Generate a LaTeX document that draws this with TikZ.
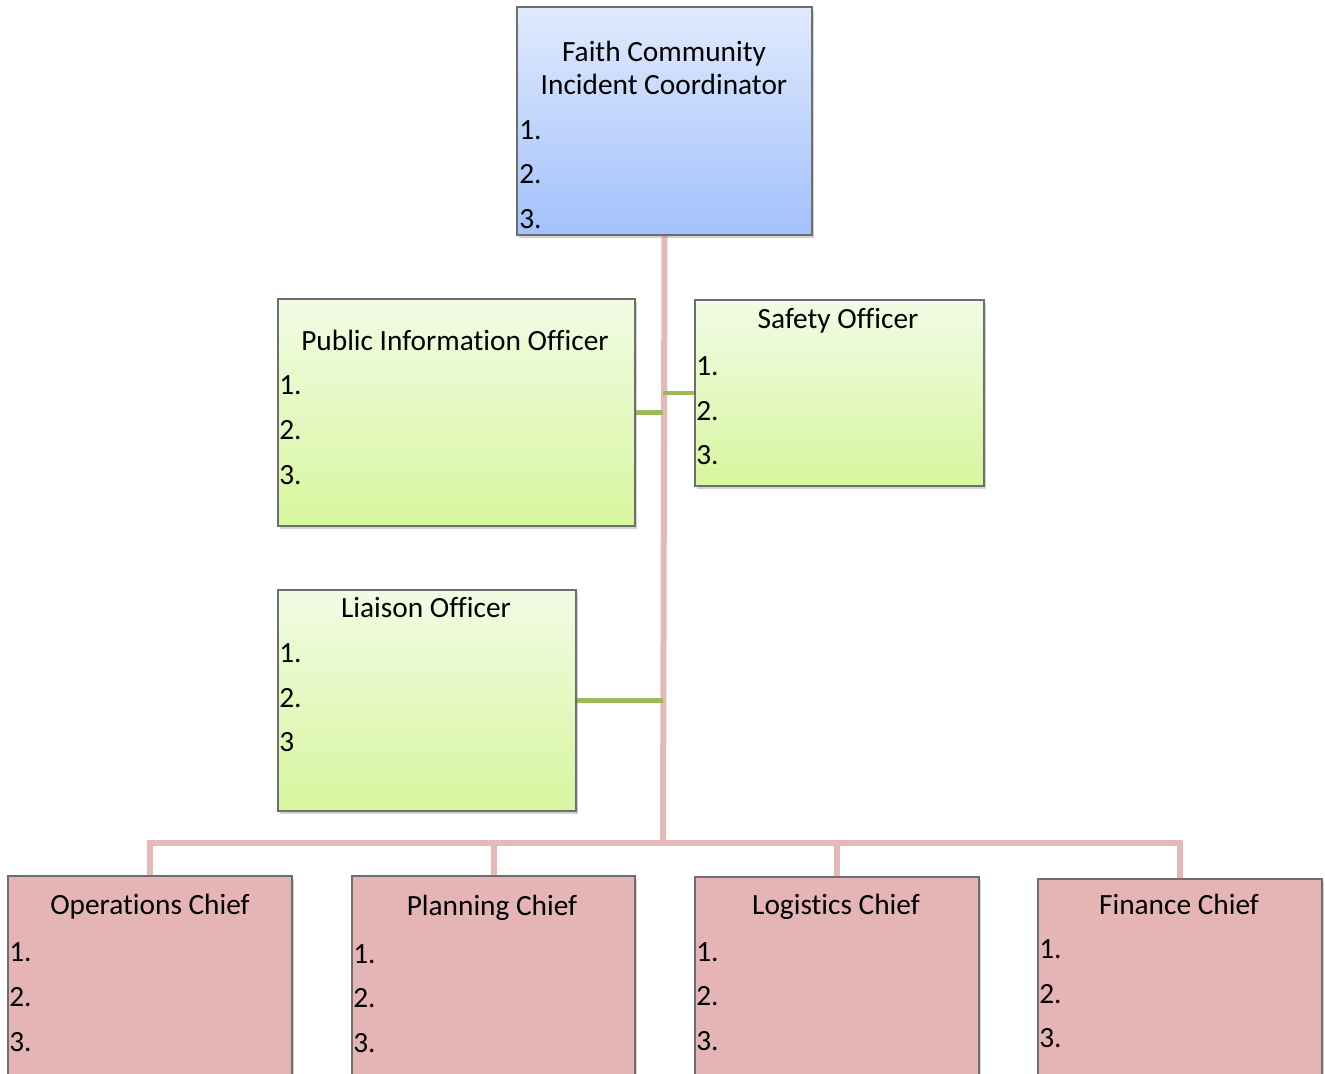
\documentclass[tikz,border=0pt]{standalone}
\usepackage{fontspec}
\setmainfont{Carlito}[Ligatures=NoCommon]
\usetikzlibrary{positioning,fit,shadows,backgrounds}
\definecolor{icTop}{RGB}{224,234,253}
\definecolor{icBot}{RGB}{162,193,251}
\definecolor{stTop}{RGB}{242,251,228}
\definecolor{stBot}{RGB}{214,246,158}
\definecolor{chFill}{RGB}{229,181,182}
\definecolor{boxLine}{RGB}{110,110,110}
\definecolor{trunkCol}{RGB}{230,184,183}
\definecolor{staffCol}{RGB}{155,187,89}
\tikzset{box/.style = {draw=boxLine, line width=0.9pt, inner sep=0,
    drop shadow={opacity=0.35, shadow xshift=1.2pt, shadow yshift=-2pt}},
  icbox/.style = {box, top color=icTop, bottom color=icBot},
  stbox/.style = {box, top color=stTop, bottom color=stBot},
  chbox/.style = {box, fill=chFill},
  txt/.style = {inner sep=0, font=\fontsize{22}{25}\selectfont, align=center},
  num/.style = {txt, anchor=west},
  trunk/.style = {draw=trunkCol, line width=4.5pt},
  staff/.style = {draw=staffCol, line width=3.6pt}}

\begin{document}
\begin{tikzpicture}[x=0.75pt, y=-0.75pt]
      \useasboundingbox (0, 0) rectangle (1325, 1074);
      \clip (0, 0) rectangle (1325, 1074);
      \node [icbox, fit={(517, 7) (812, 235)}] (ic) {};
      \node [stbox, fit={(278, 299) (635, 526)}] (pio) {};
      \node [stbox, fit={(695, 300) (984, 486)}] (safe) {};
      \node [stbox, fit={(278, 590) (576, 811)}] (liai) {};
      \node [chbox, fit={(8, 876) (292, 1090)}] (ops) {};
      \node [chbox, fit={(352, 876) (635, 1090)}] (plan) {};
      \node [chbox, fit={(695, 877) (979, 1090)}] (logi) {};
      \node [chbox, fit={(1038, 879) (1322, 1090)}] (fin) {};
      \coordinate (hub) at (663, 843);
      \begin{scope}[on background layer]
        \draw [trunk] (ic.south) -- (hub);
        \draw [trunk] (ops.north) |- (hub) -| (fin.north);
        \draw [trunk] (plan.north) -- (plan.north |- hub);
        \draw [trunk] (logi.north) -- (logi.north |- hub);
        \draw [staff] (pio.east) -- (pio.east -| hub);
        \draw [staff] (safe.west) -- (safe.west -| hub);
        \draw [staff] (liai.east) -- (liai.east -| hub);
      \end{scope}
      \node [txt] (icT) at (664, 68) {Faith Community\\Incident Coordinator};
      \node [txt] (pioT) at (455, 340) {Public Information Officer};
      \node [txt] (safeT) at (838, 321) {Safety Officer};
      \node [txt] (liaiT) at (426, 608) {Liaison Officer};
      \node [txt] (opsT) at (150, 907) {Operations Chief};
      \node [txt] (planT) at (492, 908) {Planning Chief};
      \node [txt] (logiT) at (836, 907) {Logistics Chief};
      \node [txt] (finT) at (1179, 904) {Finance Chief};
      \foreach \n/\y in {1/130, 2/174, 3/219} \node [num] (ic\n) at (519, \y) {\n.};
      \foreach \n/\y in {1/385, 2/430, 3/475} \node [num] (pio\n) at (279, \y) {\n.};
      \foreach \n/\y in {1/366, 2/411, 3/455} \node [num] (safe\n) at (696, \y) {\n.};
      \node [num] (liai1) at (279, 653) {1.};
      \node [num] (liai2) at (279, 698) {2.};
      \node [num] (liai3) at (279, 742) {3};
      \foreach \n/\y in {1/952, 2/997, 3/1042} \node [num] (ops\n) at (9, \y) {\n.};
      \foreach \n/\y in {1/954, 2/998, 3/1043} \node [num] (plan\n) at (353, \y) {\n.};
      \foreach \n/\y in {1/952, 2/996, 3/1041} \node [num] (logi\n) at (696, \y) {\n.};
      \foreach \n/\y in {1/949, 2/994, 3/1038} \node [num] (fin\n) at (1039, \y) {\n.};
    \end{tikzpicture}
\end{document}
